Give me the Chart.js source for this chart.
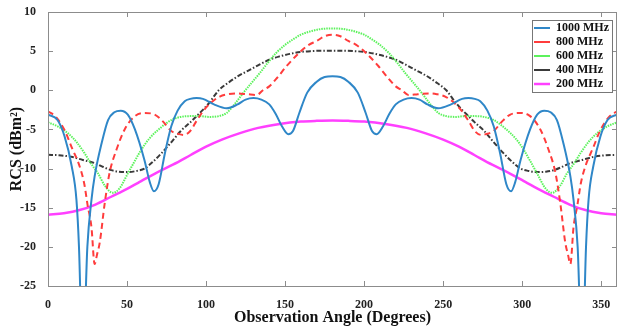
<!DOCTYPE html>
<html>
<head>
<meta charset="utf-8">
<script src="https://cdn.jsdelivr.net/npm/chart.js@4.4.0/dist/chart.umd.min.js"></script>
<style>
    html, body { margin: 0; padding: 0; background: #fff; }
    #wrap { width: 621px; height: 336px; }
</style>
</head>
<body>
<div id="wrap"><canvas id="rcs-chart" width="621" height="336"></canvas></div>
<script>
// 1000 MHz
var angles1000 = [0, 6, 10.5, 15, 18, 19.6, 22, 24.9, 27.5, 29.5, 34, 38, 42, 46, 50.5, 55, 61, 64.5, 67, 70, 74, 78, 82, 86.5, 90, 94, 98, 105, 113, 120, 125, 130, 135, 140, 144, 148, 152, 155, 159, 164, 170, 175,
    180, 185, 190, 196, 201, 205, 208, 212, 216, 220, 225, 230, 235, 240, 247, 255, 262, 266, 270, 273.5, 278, 282, 286, 290, 293, 295.5, 299, 305, 309.5, 314, 318, 322, 326, 330.5, 332.5, 335.1, 338, 340.4, 342, 345, 349.5, 354, 360];
var rcs1000 = [-3.1, -3.8, -5.9, -9.7, -14, -20, -35, -20, -14, -11, -6.7, -3.8, -2.8, -2.6, -3.1, -5.0, -8.9, -11.8, -12.9, -12, -8.0, -4.6, -2.6, -1.4, -1.1, -1.0, -1.1, -1.8, -2.3, -1.8, -1.2, -1.0, -1.2, -1.8, -3.0, -4.6, -5.6, -5.2, -2.9, -0.3, 1.1, 1.7,
    1.8, 1.7, 1.1, -0.3, -2.9, -5.2, -5.6, -4.6, -3.0, -1.8, -1.2, -1.0, -1.2, -1.8, -2.3, -1.8, -1.1, -1.0, -1.1, -1.4, -2.6, -4.6, -8.0, -12, -12.9, -11.8, -8.9, -5.0, -3.1, -2.6, -2.8, -3.8, -6.7, -11, -14, -20, -35, -20, -14, -9.7, -5.9, -3.8, -3.1];

// 800 MHz
var angles800 = [0, 5, 11, 15, 20, 23, 25, 27.5, 29.5, 31, 32.7, 35.9, 39, 43.3, 48.5, 55, 61, 67.5, 72.8, 78, 83, 86, 90, 94, 98, 103, 108.7, 114, 119, 126, 132, 136, 140, 145, 151, 159, 165, 170, 175,
    180, 185, 190, 195, 201, 209, 215, 220, 224, 228, 234, 241, 246, 251.3, 257, 262, 266, 270, 274, 277, 282, 287.2, 292.5, 299, 305, 311.5, 316.7, 321, 324.1, 327.3, 329, 330.5, 332.5, 335, 337, 340, 345, 349, 355, 360];
var rcs800 = [-2.7, -3.4, -5.3, -7.3, -9.7, -12, -14.6, -17.5, -22.2, -21, -19.5, -14.4, -10.5, -7.6, -5.0, -3.3, -2.9, -3.1, -4.0, -5.2, -5.6, -5.7, -5.2, -3.9, -2.7, -1.6, -0.8, -0.5, -0.4, -0.5, -0.6, 0.0, 0.5, 1.6, 3.1, 4.8, 5.8, 6.3, 6.9,
    7.1, 6.9, 6.3, 5.8, 4.8, 3.1, 1.6, 0.5, 0.0, -0.6, -0.5, -0.4, -0.5, -0.8, -1.6, -2.7, -3.9, -5.2, -5.7, -5.6, -5.2, -4.0, -3.1, -2.9, -3.3, -5.0, -7.6, -10.5, -14.4, -19.5, -21, -22.2, -17.5, -14.6, -12, -9.7, -7.3, -5.3, -3.4, -2.7];

// 600 MHz
var angles600 = [0, 6, 12.7, 18, 23, 27, 31.6, 36, 41, 45, 50.6, 55, 59, 64, 70, 78, 84, 90, 96, 102, 108, 113, 118, 123.5, 129, 134, 139, 144.5, 150, 155, 160, 165.6, 172,
    180, 188, 194.4, 200, 205, 210, 215.5, 221, 226, 231, 236.5, 242, 247, 252, 258, 264, 270, 276, 282, 290, 296, 301, 305, 309.4, 315, 319, 324, 328.4, 333, 337, 342, 347.3, 354, 360];
var rcs600 = [-4.1, -4.6, -5.5, -6.6, -8.0, -9.3, -10.6, -12.2, -13.1, -12.6, -10.6, -9.0, -7.6, -6.2, -5.0, -3.8, -3.4, -3.3, -3.3, -3.4, -3.3, -2.9, -1.8, -0.35, 1.0, 2.2, 3.5, 4.8, 5.8, 6.5, 7.1, 7.5, 7.8,
    7.9, 7.8, 7.5, 7.1, 6.5, 5.8, 4.8, 3.5, 2.2, 1.0, -0.35, -1.8, -2.9, -3.3, -3.4, -3.3, -3.3, -3.4, -3.8, -5.0, -6.2, -7.6, -9.0, -10.6, -12.6, -13.1, -12.2, -10.6, -9.3, -8.0, -6.6, -5.5, -4.6, -4.1];

// 400 MHz
var angles400 = [0, 7, 14.8, 22, 29.5, 35, 40, 45, 50.6, 56, 61, 66, 72, 79, 84, 90, 94, 98, 102, 108, 115, 121, 127.6, 134, 140, 146, 153, 160, 166, 173,
    180, 187, 194, 200, 207, 214, 220, 226, 232.4, 239, 245, 252, 258, 262, 266, 270, 276, 281, 288, 294, 299, 304, 309.4, 315, 320, 325, 330.5, 338, 345.2, 353, 360];
var rcs400 = [-8.25, -8.3, -8.5, -8.9, -9.3, -9.8, -10.2, -10.4, -10.45, -10.3, -10.0, -9.2, -8.0, -6.4, -5.2, -4.1, -3.3, -2.5, -1.6, 0.0, 1.1, 1.9, 2.6, 3.3, 3.9, 4.3, 4.65, 4.9, 5.0, 5.05,
    5.05, 5.05, 5.0, 4.9, 4.65, 4.3, 3.9, 3.3, 2.6, 1.9, 1.1, 0.0, -1.6, -2.5, -3.3, -4.1, -5.2, -6.4, -8.0, -9.2, -10.0, -10.3, -10.45, -10.4, -10.2, -9.8, -9.3, -8.9, -8.5, -8.3, -8.25];

// 200 MHz
var angles200 = [0, 10, 20, 30, 40, 50, 58, 68, 79, 90, 100, 110, 121, 133, 146.6, 160, 170,
    180, 190, 200, 213.4, 227, 239, 250, 260, 270, 281, 292, 302, 310, 320, 330, 340, 350, 360];
var rcs200 = [-15.9, -15.7, -15.3, -14.6, -13.6, -12.6, -11.7, -10.6, -9.5, -8.3, -7.2, -6.3, -5.5, -4.8, -4.3, -4.0, -3.9,
    -3.85, -3.9, -4.0, -4.3, -4.8, -5.5, -6.3, -7.2, -8.3, -9.5, -10.6, -11.7, -12.6, -13.6, -14.6, -15.3, -15.7, -15.9];

var xTicks = [0, 50, 100, 150, 200, 250, 300, 350];
var yTicks = [-25, -20, -15, -10, -5, 0, 5, 10];

var serif = "'Liberation Serif', 'Times New Roman', serif";

function toPoints(xs, ys) {
    return xs.map(function(x, i) { return {x: x, y: ys[i]}; });
}

// box round the plot, inward ticks on all four sides, frame round the legend
var framePlugin = {
    id: 'frame',
    afterLayout: function(chart) {
        var lg = chart.legend, a = chart.chartArea;
        if (!lg) return;
        lg.left = a.right - 85;
        lg.right = lg.left + lg.width;
        lg.top = a.top + 8;
        lg.bottom = lg.top + lg.height;
    },
    afterDraw: function(chart) {
        var ctx = chart.ctx, a = chart.chartArea;
        var xs = chart.scales.x, ys = chart.scales.y;
        ctx.save();
        ctx.strokeStyle = '#8c8c8c';
        ctx.lineWidth = 1;
        ctx.strokeRect(a.left + 0.5, a.top + 0.5, a.right - a.left - 1, a.bottom - a.top);
        ctx.beginPath();
        xTicks.forEach(function(v) {
            var px = Math.round(xs.getPixelForValue(v)) + 0.5;
            ctx.moveTo(px, a.bottom); ctx.lineTo(px, a.bottom - 5);
            ctx.moveTo(px, a.top); ctx.lineTo(px, a.top + 5);
        });
        yTicks.forEach(function(v) {
            var py = Math.round(ys.getPixelForValue(v)) + 0.5;
            ctx.moveTo(a.left, py); ctx.lineTo(a.left + 5, py);
            ctx.moveTo(a.right, py); ctx.lineTo(a.right - 5, py);
        });
        ctx.stroke();

        var boxes = chart.legend && chart.legend.legendHitBoxes;
        if (boxes && boxes.length) {
            var l = Infinity, t = Infinity, r = -Infinity, b = -Infinity;
            boxes.forEach(function(hb) {
                l = Math.min(l, hb.left);
                t = Math.min(t, hb.top);
                r = Math.max(r, hb.left + hb.width);
                b = Math.max(b, hb.top + hb.height);
            });
            ctx.strokeStyle = '#777';
            ctx.strokeRect(Math.round(l - 2) + 0.5, Math.round(t - 2) + 0.5, Math.round(r - l + 5), Math.round(b - t + 4));
        }
        ctx.restore();
    }
};

chart();

function chart() {
    var ctx = document.getElementById('rcs-chart');
    var myChart = new Chart(ctx, {
        type: 'line',
        data: {
            datasets: [{
                label: '1000 MHz',
                data: toPoints(angles1000, rcs1000),
                borderColor: '#2f87c8',
                borderWidth: 2
            }, {
                label: '800 MHz',
                data: toPoints(angles800, rcs800),
                borderColor: '#ff3c3c',
                borderWidth: 2,
                borderDash: [6, 4]
            }, {
                label: '600 MHz',
                data: toPoints(angles600, rcs600),
                borderColor: '#5cf25c',
                borderWidth: 2,
                borderDash: [1.5, 1]
            }, {
                label: '400 MHz',
                data: toPoints(angles400, rcs400),
                borderColor: '#3a3a3a',
                borderWidth: 2,
                borderDash: [5, 2, 1.5, 2]
            }, {
                label: '200 MHz',
                data: toPoints(angles200, rcs200),
                borderColor: '#ff40ff',
                borderWidth: 2.5
            }]
        },
        options: {
            responsive: false,
            animation: false,
            layout: {
                padding: {left: 0, right: 4, top: 12, bottom: 0}
            },
            elements: {
                point: {radius: 0},
                line: {cubicInterpolationMode: 'monotone', fill: false}
            },
            plugins: {
                tooltip: {enabled: false},
                legend: {
                    position: 'chartArea',
                    align: 'start',
                    labels: {
                        usePointStyle: true,
                        pointStyle: 'line',
                        pointStyleWidth: 16,
                        boxHeight: 12,
                        padding: 2,
                        color: '#111',
                        font: {family: serif, size: 12, weight: 'bold'}
                    }
                }
            },
            scales: {
                x: {
                    type: 'linear',
                    min: 0,
                    max: 360,
                    afterFit: function(scale) { scale.height = 50; },
                    grid: {display: false},
                    border: {display: false},
                    ticks: {
                        stepSize: 50,
                        includeBounds: false,
                        padding: 4,
                        maxRotation: 0,
                        color: '#222',
                        font: {family: serif, size: 12, weight: 'bold'}
                    },
                    title: {
                        display: true,
                        text: 'Observation Angle (Degrees)',
                        color: '#111',
                        padding: {top: 0, bottom: 9},
                        font: {family: serif, size: 16, weight: 'bold'}
                    }
                },
                y: {
                    type: 'linear',
                    min: -25,
                    max: 10,
                    afterFit: function(scale) { scale.width = 48; },
                    grid: {display: false},
                    border: {display: false},
                    ticks: {
                        stepSize: 5,
                        padding: 4,
                        color: '#222',
                        font: {family: serif, size: 12, weight: 'bold'}
                    },
                    title: {
                        display: true,
                        text: 'RCS (dBm²)',
                        color: '#111',
                        padding: {top: 7, bottom: 0},
                        font: {family: serif, size: 16, weight: 'bold'}
                    }
                }
            }
        },
        plugins: [framePlugin]
    });
}
</script>
</body>
</html>
